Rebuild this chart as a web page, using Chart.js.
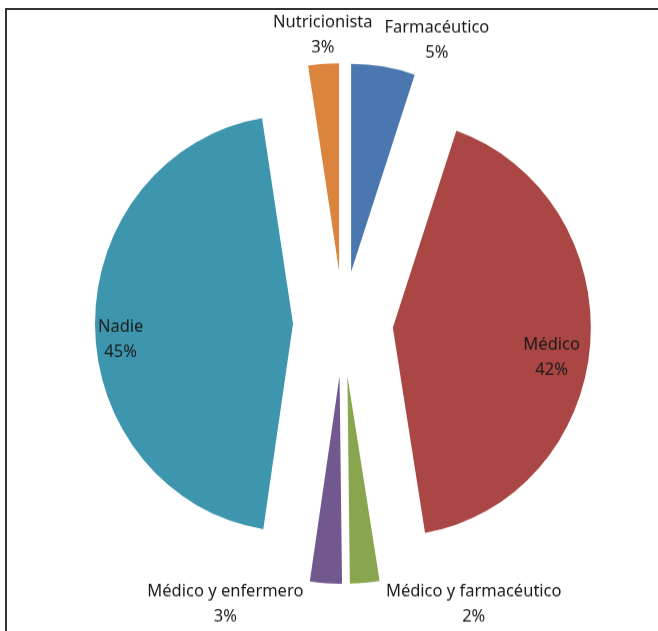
<!DOCTYPE html>
<html>
<head>
<meta charset="utf-8">
<script src="https://cdn.jsdelivr.net/npm/chart.js@4/dist/chart.umd.min.js"></script>
<style>
  html, body { margin: 0; padding: 0; background: #fff; overflow: hidden; }
  #page { position: relative; width: 658px; height: 631px; overflow: hidden; }
  #frame { position: absolute; left: 5px; top: 8px; width: 660px; height: 640px;
           border-left: 2px solid #333; border-top: 2px solid #333; }
  /* the reference pie is slightly taller than wide */
  #wrap { position: absolute; left: 0; top: 0; width: 658px; height: 601px;
          transform: scaleY(1.05); transform-origin: 0 0; }
</style>
</head>
<body>
<div id="page">
  <div id="frame"></div>
  <div id="wrap"><canvas id="chart"></canvas></div>
</div>
<script>
// categories and shares (%), clockwise from 12 o'clock
const categories = ['Farmacéutico', 'Médico', 'Médico y farmacéutico', 'Médico y enfermero', 'Nadie', 'Nutricionista'];
const values = [5.2, 42.2, 2.4, 2.6, 45.1, 2.5];
const colors = ['#4A77AF', '#AA4643', '#89A54E', '#71588F', '#3D96AE', '#DB843D'];

// how far every slice is pulled out of the pie
const explode = 50;

// where each label goes: inside the slice or outside it, and a small nudge
const labelInside = [false, true, false, false, true, false];
const labelShift = [[50, -3], [-3, 15], [107, -2], [-99, -2], [-10, 15], [1, -6]];

// chart.js grows small slices when "offset" is used, so move them by hand instead
const explodedSlices = {
    id: 'explodedSlices',
    beforeDatasetDraw(chart, args) {
        const ctx = chart.ctx;
        args.meta.data.forEach(arc => {
            const mid = (arc.startAngle + arc.endAngle) / 2;
            ctx.save();
            ctx.translate(Math.cos(mid) * explode, Math.sin(mid) * explode);
            arc.draw(ctx, chart.chartArea);
            ctx.restore();
        });
        return false;
    }
};

const sliceLabels = {
    id: 'sliceLabels',
    afterDatasetsDraw(chart) {
        const ctx = chart.ctx;
        const meta = chart.getDatasetMeta(0);
        const total = values.reduce((a, b) => a + b, 0);
        ctx.save();
        ctx.font = '16.5px "Noto Sans", sans-serif';
        ctx.fillStyle = '#1a1a1a';
        ctx.textAlign = 'center';
        ctx.textBaseline = 'middle';
        meta.data.forEach((arc, i) => {
            const mid = (arc.startAngle + arc.endAngle) / 2;
            const vx = arc.x + Math.cos(mid) * explode;
            const vy = arc.y + Math.sin(mid) * explode;
            const dist = labelInside[i] ? arc.outerRadius * 0.82 : arc.outerRadius + 22;
            const x = vx + Math.cos(mid) * dist + labelShift[i][0];
            const y = vy + Math.sin(mid) * dist + labelShift[i][1];
            const pct = Math.round(values[i] / total * 100) + '%';
            ctx.fillText(categories[i], x, y - 12);
            ctx.fillText(pct, x, y + 12);
        });
        ctx.restore();
    }
};

new Chart(document.getElementById('chart'), {
    type: 'pie',
    data: {
        labels: categories,
        datasets: [{
            data: values,
            backgroundColor: colors,
            borderWidth: 0
        }]
    },
    options: {
        responsive: true,
        maintainAspectRatio: false,
        animation: false,
        radius: 198,
        layout: { padding: { left: 28, right: 0, top: 15, bottom: 0 } },
        plugins: {
            legend: { display: false },
            tooltip: { enabled: false }
        }
    },
    plugins: [explodedSlices, sliceLabels]
});
</script>
</body>
</html>
